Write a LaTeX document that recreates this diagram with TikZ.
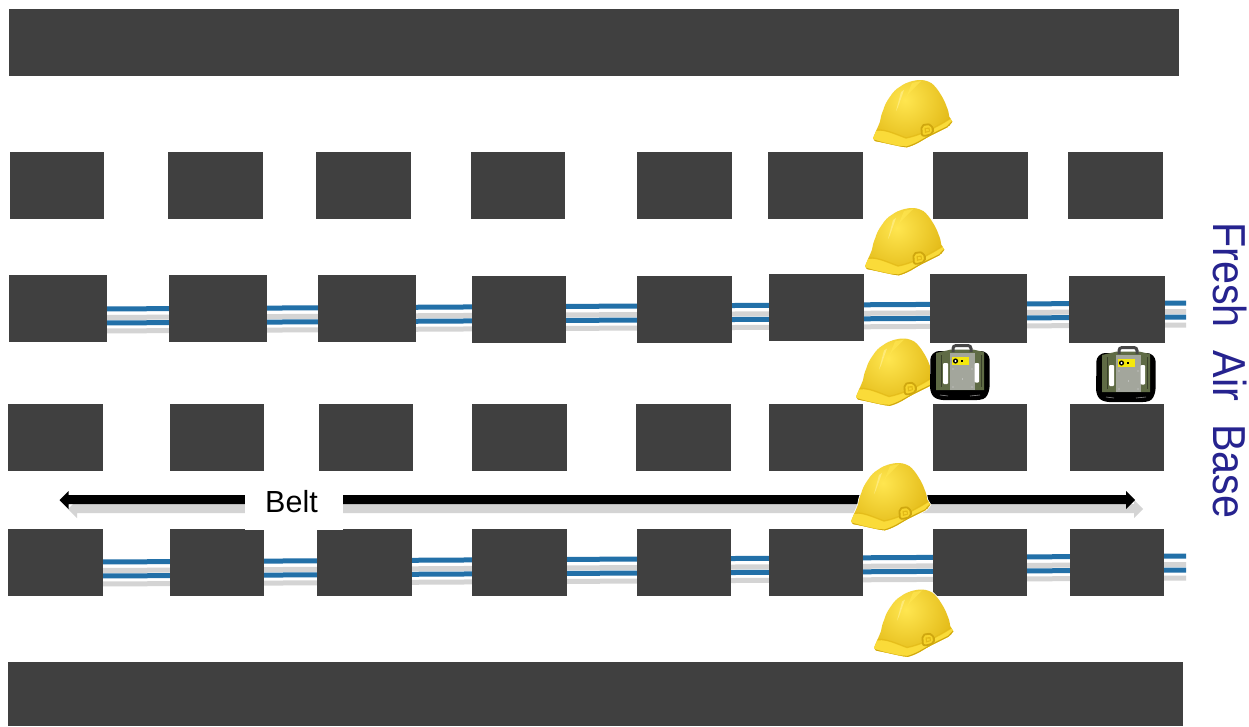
\documentclass[tikz,border=0pt]{standalone}
\usepackage{fontspec}
\setmainfont{Liberation Sans}
\definecolor{pillar}{HTML}{404040}
\definecolor{rope}{HTML}{2270A8}
\definecolor{shadowgray}{HTML}{D4D4D4}
\definecolor{hat}{HTML}{F7D42A}
\definecolor{hatlight}{HTML}{FFE650}
\definecolor{hatdark}{HTML}{E2B916}
\definecolor{hatedge}{HTML}{CFA70F}
\definecolor{packgreen}{HTML}{5F6B45}
\definecolor{packsilver}{HTML}{A3A69C}
\definecolor{airblue}{HTML}{26238F}
\newcommand{\hatpath}{(0,58.3) .. controls (2.5,52) and (5,47) .. (7,41.7)
  .. controls (8,36) and (8.5,34) .. (10.3,30) .. controls (12,24) and (14,21) .. (17,16.7)
  .. controls (20,12) and (23,9) .. (27,6.7) .. controls (31,3.8) and (34,2.5) .. (37,1.7)
  .. controls (41,0.5) and (45,-0.2) .. (48.7,0) .. controls (53,0.5) and (56,1.5) .. (58.7,3.3)
  .. controls (62,6) and (65,10) .. (67,13.3) .. controls (70,18) and (72,22) .. (73,25)
  .. controls (75,30) and (76,33) .. (76.3,36.7) -- (79.3,41.7)
  .. controls (78,44) and (76,46) .. (74.3,47.3) .. controls (69,50) and (64,52.5) .. (58.7,55)
  .. controls (54,57.5) and (49,60.5) .. (45.3,62.7) .. controls (41,65) and (37,66.5) .. (33.7,67.3)
  .. controls (30,67) and (28,66.5) .. (25.3,66) -- (10.3,62.7) -- (2,61) -- cycle}
\tikzset{
  x=1pt,y=-1pt,
  ropeline/.style={draw=rope,line width=5pt},
  ropeshade/.style={draw=shadowgray,line width=5pt},
  helmet/.pic={
    \path[fill=hat,draw=white,line width=1.6pt] \hatpath;
    \begin{scope}
      \clip \hatpath;
      \shade[inner color=hatlight,outer color=hatdark] (-18,-30) rectangle (82,70);
      % brim
      \fill[hat!60!hatlight] (0,52) .. controls (10,48) and (22,54) .. (33,58)
        .. controls (48,55) and (64,47) .. (80,37) -- (84,70) -- (-4,70) -- cycle;
      \draw[hatdark,line width=1.3pt,opacity=.75] (3,50) .. controls (12,49) and (22,54) .. (33,58)
        .. controls (48,55) and (64,47) .. (78,38);
      \draw[hatedge,line width=1.2pt] (0,60) -- (10.3,63) -- (25.3,66.4) -- (33.7,67)
        .. controls (37,66) and (41,64.5) .. (45.3,62.2) -- (58.7,54.5) -- (74.3,46.8) -- (79.3,41.7);
      % ridges
      \fill[hatlight!70!white,opacity=.8] (28,12) -- (31,10) -- (25,27) -- (23,31) -- cycle;
      \fill[hatlight,opacity=.7] (39,3) -- (48,1) -- (36,13) -- (33,18) -- cycle;
    \end{scope}
    % chin-strap clip
    \draw[hatedge,line width=1.8pt,fill=hat,rounded corners=2pt] (48.5,50) -- (48.5,46) -- (53,44) -- (58.5,45) -- (60,50) -- (60,53) -- (55,55.5) -- (49,56) -- cycle;
    \fill[hatdark] (51.5,48) -- (56.5,47.5) -- (57,51.5) -- (52,53) -- cycle;
    \fill[hat] (53,49.2) -- (55.5,49) -- (55.8,50.8) -- (53.3,51.4) -- cycle;
  },
  airpack/.pic={
    \fill[white] (0,0) rectangle (59.5,57);
    % straps and base
    \fill[black,rounded corners=3pt] (0.5,13) -- (6,8) -- (54,8) -- (59.5,13) -- (59.5,47) -- (56,55) -- (50,57) -- (10,57) -- (3,54) -- (0,47) -- cycle;
    % body
    \fill[packgreen] (6,10) -- (21,6.5) -- (43,6.5) -- (54,9) -- (54,47) -- (6,47) -- cycle;
    \draw[packgreen!60!black,line width=.8pt] (11,12) -- (11,44);
    \draw[packgreen!60!black,line width=.8pt] (51,12) -- (51,44);
    % handle
    \draw[black!72,line width=3pt,rounded corners=3pt] (23,9) -- (23,2.5) -- (41,2.5) -- (41,9);
    % plate
    \fill[packsilver] (20,10) rectangle (45,47);
    \foreach \p/\q in {23/26,42/26,23/44,42/44,32.5/36}{\fill[white!85!black] (\p,\q) circle (.7pt);}
    % label
    \fill[yellow!95!black] (22,14) rectangle (39,22);
    \fill[black] (25.5,18) circle (2.6pt);
    \fill[white] (25.5,18) circle (1.1pt);
    \fill[black] (31,17) rectangle (33,18.5);
    % slots
    \fill[white,rounded corners=1pt] (13,20) rectangle (18,41);
    \fill[white,rounded corners=1pt] (44.5,20) rectangle (49,39.5);
    % base highlights
    \draw[white!55!black,line width=.6pt] (10,52) -- (18,53);
    \draw[white!55!black,line width=.6pt] (40,53) -- (50,52);
  }
}
\newcommand{\pillarrow}[2]{%
  \foreach \a/\b in {#2}{\fill[pillar] (\a,#1) rectangle (\b,#1+67);}}
\newcommand{\ropes}[2]{%
  \draw[ropeshade] (#2,#1+8.5) -- (1186,#1+2.5);
  \draw[ropeshade] (#2,#1+22) -- (1186,#1+16);
  \draw[ropeline] (#2,#1) -- (1186,#1-6);
  \draw[ropeline] (#2,#1+14) -- (1186,#1+8);
}
\begin{document}
\begin{tikzpicture}
\useasboundingbox[fill=white] (0,0) rectangle (1249,726);
% ribs
\fill[pillar] (9,9) rectangle (1179,76);
\fill[pillar] (8,662) rectangle (1183,726);
% ropes
\ropes{309}{100}
\ropes{562}{100}
% pillars
\pillarrow{152}{10/104,168/263,316/411,471/565,637/732,768/863,933/1028,1068/1163}
\pillarrow{275}{9/107,169/267,318/416}
\pillarrow{276}{472/566,637/732,1069/1165}
\pillarrow{274}{769/864}
\fill[pillar] (930,274) rectangle (1027,343);
\pillarrow{404}{8/103,170/264,319/413,472/567,636/731,769/863,933/1027,1070/1164}
\pillarrow{529}{8/103,170/264,317/412,472/567,637/731,769/863,933/1027,1070/1164}
% belt
\fill[shadowgray] (68,509) -- (77,500) -- (77,504) -- (1134,504) -- (1134,500) -- (1143,509) -- (1134,518) -- (1134,513) -- (77,513) -- (77,518) -- cycle;
\fill[black] (59.5,500) -- (68.5,491) -- (68.5,495) -- (1126,495) -- (1126,491) -- (1135,500) -- (1126,509) -- (1126,504.2) -- (68.5,504.2) -- (68.5,509) -- cycle;
\node[fill=white,minimum width=98pt,minimum height=50pt,inner sep=0pt] (beltbox) at (294,504.5) {};
\node[anchor=base,font=\fontsize{30.5}{30.5}\selectfont,inner sep=0pt] (beltlabel) at (291.5,512) {Belt};
% helmets and packs
\pic[shift={(873,80)}] {helmet};
\pic[shift={(865,208)}] {helmet};
\pic[shift={(856,338.5)}] {helmet};
\pic[shift={(851,463)}] {helmet};
\pic[shift={(874,589.5)}] {helmet};
\pic[shift={(930,343)}] {airpack};
\pic[shift={(1096,345)}] {airpack};
% label
\node[rotate=-90,anchor=base west,font=\fontsize{41.3}{41.3}\selectfont,text=airblue,inner sep=0pt] (air) at (1213,222) {\scalebox{1}[1.12]{Fresh\ \ Air\ \ Base}};
\end{tikzpicture}
\end{document}
